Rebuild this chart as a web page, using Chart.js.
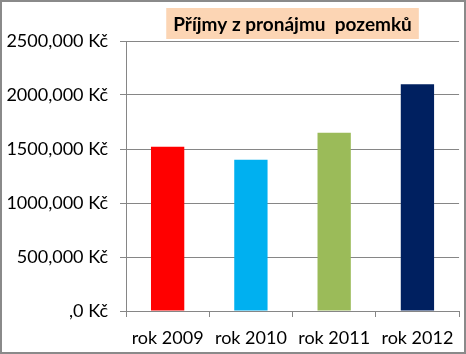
<!DOCTYPE html>
<html>
<head>
<meta charset="utf-8">
<script src="https://cdn.jsdelivr.net/npm/chart.js@4/dist/chart.umd.min.js"></script>
<style>
  html, body { margin: 0; padding: 0; background: #fff; }
  #wrap { width: 466px; height: 354px; box-sizing: border-box; border: 2px solid #8a8a8a; }
  canvas { display: block; }
</style>
</head>
<body>
<div id="wrap"><canvas id="prijmy" width="462" height="350"></canvas></div>
<script>
// data
const roky = ['rok 2009', 'rok 2010', 'rok 2011', 'rok 2012'];
const prijmy = [1520000, 1400000, 1650000, 2100000];
const barvy = ['#FF0000', '#00B0F0', '#9BBB59', '#002060'];
const yTickLabels = [',0 Kč', '500,000 Kč', '1000,000 Kč', '1500,000 Kč', '2000,000 Kč', '2500,000 Kč'];
const nadpis = 'Příjmy z pronájmu  pozemků';

const FONT = 'Lato, "Open Sans", sans-serif';
const GRID = '#868686';
const TITLE_SIZE = 19;

// peach box behind the title
const titleBox = {
    id: 'titleBox',
    beforeDraw(chart) {
        const tb = chart.titleBlock;
        if (!tb) return;
        const ctx = chart.ctx;
        ctx.save();
        ctx.font = 'bold ' + TITLE_SIZE + 'px ' + FONT;
        const w = ctx.measureText(nadpis).width;
        const cx = tb.left + tb.width / 2;
        ctx.fillStyle = '#FCD5B4';
        ctx.fillRect(cx - w / 2 - 7, 6, w + 14, 31);
        ctx.restore();
    }
};

document.addEventListener('DOMContentLoaded', () => {
    const ctx = document.getElementById('prijmy').getContext('2d');
    new Chart(ctx, {
        type: 'bar',
        data: {
            labels: roky,
            datasets: [{
                data: prijmy,
                backgroundColor: barvy,
                borderWidth: 0,
                barPercentage: 1,
                categoryPercentage: 0.4
            }]
        },
        options: {
            responsive: false,
            animation: false,
            layout: { padding: { left: 0, right: 0, top: 0, bottom: 0 } },
            plugins: {
                legend: { display: false },
                tooltip: { enabled: false },
                title: {
                    display: true,
                    text: nadpis,
                    fullSize: false,
                    color: '#000',
                    font: { family: FONT, size: TITLE_SIZE, weight: 'bold', lineHeight: 1 },
                    padding: { top: 13, bottom: 7 }
                }
            },
            scales: {
                x: {
                    grid: { display: true, drawOnChartArea: false, drawTicks: true, tickLength: 6, color: GRID, offset: true },
                    border: { display: true, color: GRID },
                    ticks: { color: '#000', font: { family: FONT, size: 18 }, padding: 10, maxRotation: 0 },
                    afterFit: scale => { scale.height = 41; }
                },
                y: {
                    min: 0,
                    max: 2500000,
                    ticks: {
                        stepSize: 500000,
                        color: '#000',
                        font: { family: FONT, size: 18 },
                        padding: 12,
                        callback: (v, i) => yTickLabels[i]
                    },
                    grid: { color: GRID, tickLength: 6 },
                    border: { display: true, color: GRID },
                    afterFit: scale => { scale.width = 124; }
                }
            }
        },
        plugins: [titleBox]
    });
});
</script>
</body>
</html>
